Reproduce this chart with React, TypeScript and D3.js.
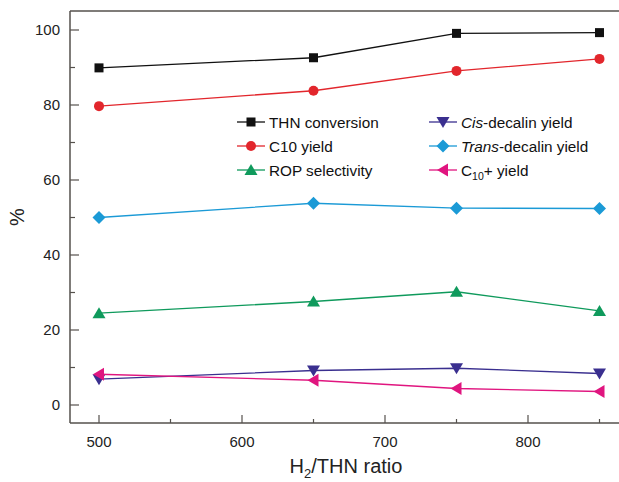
import React from "react";
import * as d3 from "d3";

const ratios = [500, 650, 750, 850];
const thnConversion = [89.9, 92.6, 99.1, 99.3];
const c10Yield = [79.7, 83.8, 89.1, 92.3];
const ropSelectivity = [24.5, 27.6, 30.2, 25.1];
const cisYield = [6.9, 9.2, 9.8, 8.4];
const transYield = [50.0, 53.8, 52.5, 52.4];
const c10PlusYield = [8.2, 6.6, 4.4, 3.6];
const xTicks = [500, 600, 700, 800];
const yTicks = [0, 20, 40, 60, 80, 100];

type Series = { key: string; values: number[]; color: string; marker: string };

const series: Series[] = [
  { key: "thn", values: thnConversion, color: "#111111", marker: "square" },
  { key: "c10", values: c10Yield, color: "#e2262c", marker: "circle" },
  { key: "rop", values: ropSelectivity, color: "#0f9a5c", marker: "up" },
  { key: "cis", values: cisYield, color: "#3a2f8f", marker: "down" },
  { key: "trans", values: transYield, color: "#1b9ad6", marker: "diamond" },
  { key: "c10p", values: c10PlusYield, color: "#e0157f", marker: "left" },
];

function Marker({ type, x, y, color }: { type: string; x: number; y: number; color: string }) {
  if (type === "square") return <rect x={x - 4.5} y={y - 4.5} width={9} height={9} fill={color} />;
  if (type === "circle") return <circle cx={x} cy={y} r={5} fill={color} />;
  if (type === "up")
    return <path d={`M${x},${y - 6} L${x + 6.5},${y + 5} L${x - 6.5},${y + 5} Z`} fill={color} />;
  if (type === "down")
    return <path d={`M${x},${y + 6} L${x + 6.5},${y - 5} L${x - 6.5},${y - 5} Z`} fill={color} />;
  if (type === "left")
    return <path d={`M${x - 6},${y} L${x + 5},${y - 6.5} L${x + 5},${y + 6.5} Z`} fill={color} />;
  return <path d={`M${x},${y - 6.5} L${x + 6.5},${y} L${x},${y + 6.5} L${x - 6.5},${y} Z`} fill={color} />;
}

export default function App() {
  const W = 619, H = 482;
  const left = 70, top = 11, bottom = 423;
  const x = d3.scaleLinear().domain([500, 850]).range([99, 599.5]);
  const y = d3.scaleLinear().domain([0, 100]).range([405, 30]);
  const axisColor = "#55514d";
  const font = "'Liberation Sans', Arial, sans-serif";
  const line = d3.line<number>();

  const minorY = d3.range(10, 101, 20);
  const minorX = [550, 650, 750, 850];

  const legend = [
    { s: series[0], label: <tspan>THN conversion</tspan>, col: 0, row: 0 },
    { s: series[1], label: <tspan>C10 yield</tspan>, col: 0, row: 1 },
    { s: series[2], label: <tspan>ROP selectivity</tspan>, col: 0, row: 2 },
    { s: series[3], label: <><tspan fontStyle="italic">Cis</tspan><tspan>-decalin yield</tspan></>, col: 1, row: 0 },
    { s: series[4], label: <><tspan fontStyle="italic">Trans</tspan><tspan>-decalin yield</tspan></>, col: 1, row: 1 },
    {
      s: series[5],
      label: (
        <>
          <tspan>C</tspan>
          <tspan fontSize={10.5} dy={4}>10</tspan>
          <tspan dy={-4}>+ yield</tspan>
        </>
      ),
      col: 1,
      row: 2,
    },
  ];
  const colX = [237, 429];
  const rowY = [122, 146, 170];

  return (
    <svg width={W} height={H} style={{ position: "absolute", left: 0, top: 0 }} fontFamily={font}>
      <rect width={W} height={H} fill="#fff" />
      {/* frame */}
      <line x1={left} x2={W} y1={top} y2={top} stroke={axisColor} strokeWidth={1.5} />
      <line x1={left} x2={W} y1={bottom} y2={bottom} stroke={axisColor} strokeWidth={1.5} />
      <line x1={left} x2={left} y1={top} y2={bottom} stroke={axisColor} strokeWidth={1.5} />
      {yTicks.map((t) => (
        <g key={"yt" + t}>
          <line x1={left} x2={left + 9} y1={y(t)} y2={y(t)} stroke={axisColor} strokeWidth={1.2} />
          <text x={left - 10} y={y(t)} dy="0.35em" textAnchor="end" fontSize={15} fill="#222">
            {t}
          </text>
        </g>
      ))}
      {minorY.map((t) => (
        <line key={"ym" + t} x1={left} x2={left + 5} y1={y(t)} y2={y(t)} stroke={axisColor} strokeWidth={1.2} />
      ))}
      {xTicks.map((t) => (
        <g key={"xt" + t}>
          <line x1={x(t)} x2={x(t)} y1={bottom} y2={bottom - 8} stroke={axisColor} strokeWidth={1.2} />
          <text x={x(t)} y={bottom + 24} textAnchor="middle" fontSize={15} fill="#222">
            {t}
          </text>
        </g>
      ))}
      {minorX.map((t) => (
        <line key={"xm" + t} x1={x(t)} x2={x(t)} y1={bottom} y2={bottom - 4} stroke={axisColor} strokeWidth={1.2} />
      ))}
      <text x={346} y={473} textAnchor="middle" fontSize={20} fill="#222">
        <tspan>H</tspan>
        <tspan fontSize={13} dy={5}>2</tspan>
        <tspan dy={-5}>/THN ratio</tspan>
      </text>
      <text transform="translate(24,217) rotate(-90)" textAnchor="middle" fontSize={20} fill="#222">
        %
      </text>
      {series.map((s) => (
        <g key={s.key}>
          <path
            d={line(s.values.map((v, i) => [x(ratios[i]), y(v)]) as any) || ""}
            fill="none"
            stroke={s.color}
            strokeWidth={1.3}
          />
          {s.values.map((v, i) => (
            <Marker key={i} type={s.marker} x={x(ratios[i])} y={y(v)} color={s.color} />
          ))}
        </g>
      ))}
      {legend.map((l, i) => {
        const lx = colX[l.col];
        const ly = rowY[l.row];
        return (
          <g key={"lg" + i}>
            <line x1={lx} x2={lx + 28} y1={ly} y2={ly} stroke={l.s.color} strokeWidth={1.3} />
            <Marker type={l.s.marker} x={lx + 14} y={ly} color={l.s.color} />
            <text x={lx + 32} y={ly} dy="0.36em" fontSize={15.3} fill="#111">
              {l.label}
            </text>
          </g>
        );
      })}
    </svg>
  );
}
